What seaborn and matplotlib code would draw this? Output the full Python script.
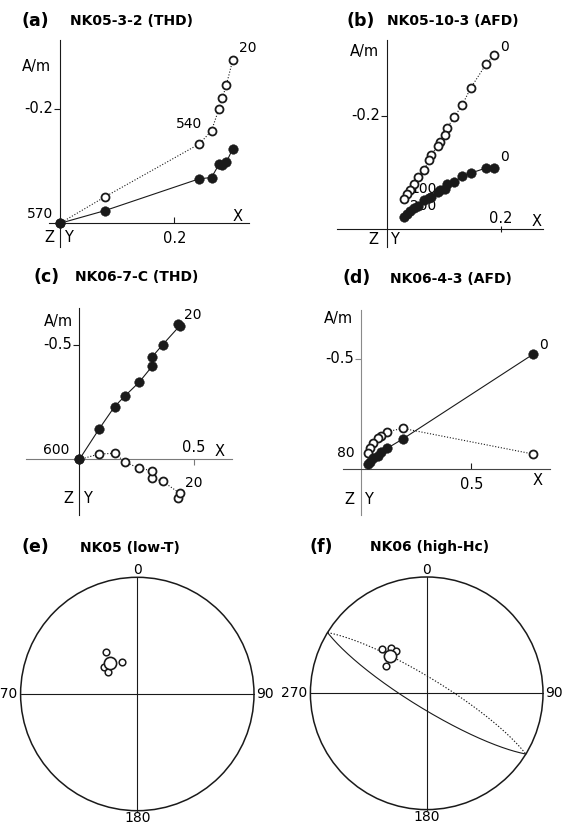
import numpy as np
import matplotlib
matplotlib.use("Agg")
import matplotlib.pyplot as plt
import seaborn as sns
from matplotlib.patches import Circle

sns.set_theme(style="white")
plt.rcParams["font.family"] = ["DejaVu Sans"]
plt.rcParams["text.color"] = "black"
plt.rcParams["xtick.color"] = "black"
plt.rcParams["ytick.color"] = "black"

W, H, DPI = 566, 827, 100

# ---------------------------------------------------------------------------
# Demagnetization data (A/m).  x = X component (shared), hor = horizontal
# projection (Y, filled), ver = vertical projection (Z, open).  Up is negative.
# ---------------------------------------------------------------------------
# (a) NK05-3-2, thermal, 20 ... 570 degC
a_x = [0.302, 0.291, 0.284, 0.278, 0.265, 0.244, 0.078, 0.0]
a_hor = [-0.130, -0.107, -0.102, -0.103, -0.080, -0.078, -0.022, 0.0]
a_ver = [-0.285, -0.242, -0.219, -0.200, -0.162, -0.139, -0.046, 0.0]

# (b) NK05-10-3, alternating field, 0 ... 200 mT
b_x = [0.188, 0.174, 0.147, 0.132, 0.118, 0.105, 0.102, 0.093, 0.089,
       0.077, 0.073, 0.065, 0.054, 0.047, 0.040, 0.035, 0.029]
b_hor = [-0.108, -0.108, -0.099, -0.094, -0.083, -0.080, -0.071, -0.069, -0.066,
         -0.057, -0.055, -0.052, -0.041, -0.038, -0.032, -0.027, -0.022]
b_ver = [-0.307, -0.291, -0.249, -0.219, -0.198, -0.178, -0.166, -0.154, -0.147,
         -0.131, -0.122, -0.104, -0.092, -0.080, -0.069, -0.062, -0.053]

# (c) NK06-7-C, thermal, 20 ... 600 degC
c_x = [0.432, 0.438, 0.363, 0.318, 0.318, 0.261, 0.201, 0.154, 0.087, 0.0]
c_hor = [-0.592, -0.583, -0.500, -0.448, -0.407, -0.337, -0.279, -0.231, -0.134, 0.0]
c_ver = [0.167, 0.147, 0.095, 0.081, 0.049, 0.038, 0.012, -0.027, -0.024, 0.0]

# (d) NK06-4-3, alternating field, 0 ... 80 mT
d_x = [0.779, 0.190, 0.120, 0.090, 0.077, 0.057, 0.042, 0.034]
d_hor = [-0.520, -0.137, -0.095, -0.077, -0.061, -0.050, -0.034, -0.023]
d_ver = [-0.069, -0.185, -0.170, -0.152, -0.140, -0.117, -0.098, -0.075]

# Site directions (declination, inclination in degrees; negative = upper hemisphere)
e_dec = [322.8, 334.2, 309.3, 306.8]
e_inc = [-53.0, -64.9, -59.7, -64.7]
e_mean_dec, e_mean_inc = 318.4, -61.2

f_dec = [315.0, 322.1, 324.0, 304.3]
f_inc = [-45.3, -48.7, -52.9, -55.1]
f_mean_dec, f_mean_inc = 315.1, -53.1

# Pole of the remagnetization great circle (NK06)
gc_pole_dec, gc_pole_inc = 31.5, 10.5

fig = plt.figure(figsize=(W / DPI, H / DPI), dpi=DPI)
fig.patch.set_facecolor("white")

FS = 10.5


def ftext(x, y, s, **kw):
    """Text placed by figure pixel position (origin top-left)."""
    kw.setdefault("fontsize", FS)
    kw.setdefault("ha", "center")
    kw.setdefault("va", "center")
    kw.setdefault("color", "black")
    return fig.text(x / W, 1 - y / H, s, **kw)


def title(x_tag, x_name, y, tag, name):
    ftext(x_tag, y, tag, ha="left", fontsize=12.5, fontweight="bold")
    ftext(x_name, y + 0.5, name, ha="left", fontsize=10, fontweight="bold")


def zijder_axes(origin, ppu, xlim, ylim, hcol="k", vcol="k"):
    ox, oy = origin
    left, right = ox + xlim[0] * ppu, ox + xlim[1] * ppu
    top, bottom = oy + ylim[0] * ppu, oy + ylim[1] * ppu
    ax = fig.add_axes([left / W, 1 - bottom / H, (right - left) / W, (bottom - top) / H])
    ax.set_xlim(*xlim)
    ax.set_ylim(ylim[1], ylim[0])
    ax.patch.set_alpha(0)
    for side in ("top", "right"):
        ax.spines[side].set_visible(False)
    ax.spines["left"].set_position(("data", 0))
    ax.spines["bottom"].set_position(("data", 0))
    ax.spines["left"].set_color(vcol)
    ax.spines["bottom"].set_color(hcol)
    ax.spines["left"].set_linewidth(0.8)
    ax.spines["bottom"].set_linewidth(0.8)
    ax.grid(False)
    return ax


def zijder_data(ax, xs, hor, ver):
    sns.lineplot(x=xs, y=ver, ax=ax, sort=False, estimator=None, color="k",
                 lw=0.8, linestyle=(0, (1, 1.6)), zorder=2)
    sns.lineplot(x=xs, y=hor, ax=ax, sort=False, estimator=None, color="k",
                 lw=0.8, zorder=2)
    sns.scatterplot(x=xs, y=ver, ax=ax, s=33, color="white", edgecolor="k",
                    linewidth=1.3, zorder=3)
    sns.scatterplot(x=xs, y=hor, ax=ax, s=48, color="k", edgecolor="k",
                    linewidth=0.3, zorder=4)
    ax.set_xlabel("")
    ax.set_ylabel("")


def ticks(ax, xt, xlab, yt, ylab, xdir, xoff, ydir="out", ycol="k", xcol="k"):
    ax.set_xticks([xt])
    ax.set_xticklabels([""])
    ax.set_yticks([yt])
    ax.set_yticklabels([""])
    ax.tick_params(axis="x", direction=xdir, length=4, width=0.8, color=xcol,
                   bottom=True, top=False)
    ax.tick_params(axis="y", direction=ydir, length=4, width=0.8, color=ycol,
                   left=True, right=False)
    ax.annotate(xlab, (xt, 0), xytext=(0, xoff), textcoords="offset points",
                ha="center", va="center", fontsize=FS, color="black")
    ax.annotate(ylab, (0, yt), xytext=(-5, 0), textcoords="offset points",
                ha="right", va="center", fontsize=FS, color="black")


def step_label(ax, s, x, y, dx, dy, z=5):
    ax.annotate(s, (x, y), xytext=(dx, dy), textcoords="offset points",
                ha="center", va="center", fontsize=10, zorder=z, color="black")


# ---------------- (a) ----------------
title(21.7, 70, 20.7, "(a)", "NK05-3-2 (THD)")
ax = zijder_axes((60, 223.3), 571.7, (-0.02, 0.33), (-0.3206, 0.0415))
zijder_data(ax, a_x, a_hor, a_ver)
ticks(ax, 0.2, "0.2", -0.2, "-0.2", "in", -10.8)
step_label(ax, "20", a_x[0], a_ver[0], 11.2, 8.7)
step_label(ax, "540", a_x[4], a_ver[4], -16.0, 4.6)
step_label(ax, "570", a_x[-1], a_ver[-1], -14.4, 6.5)
ftext(36.7, 66.7, "A/m")
ftext(237.3, 216.7, "X")
ftext(49, 237.3, "Z")
ftext(68.3, 237.3, "Y")

# ---------------- (b) ----------------
title(346.3, 387, 20.7, "(b)", "NK05-10-3 (AFD)")
ax = zijder_axes((387.3, 229.3), 567.5, (-0.0886, 0.274), (-0.3336, 0.0312))
zijder_data(ax, b_x, b_hor, b_ver)
ticks(ax, 0.2, "0.2", -0.2, "-0.2", "inout", 7.9)
step_label(ax, "0", b_x[0], b_ver[0], 7.7, 6.0)
step_label(ax, "0", b_x[0], b_hor[0], 7.7, 8.1)
step_label(ax, "100", b_x[13], b_ver[13], 6.7, -4.0, z=1)
step_label(ax, "200", b_x[16], b_ver[16], 14.0, -4.9, z=1)
ftext(364.7, 51.7, "A/m")
ftext(536.3, 221.7, "X")
ftext(373, 240, "Z")
ftext(394, 240, "Y")

# ---------------- (c) ----------------
title(33.3, 75, 276.7, "(c)", "NK06-7-C (THD)")
ax = zijder_axes((79.3, 459.5), 229.3, (-0.232, 0.666), (-0.661, 0.242),
                 hcol="#7a7a7a", vcol="k")
zijder_data(ax, c_x, c_hor, c_ver)
ticks(ax, 0.5, "0.5", -0.5, "-0.5", "out", 8.8, xcol="#7a7a7a")
step_label(ax, "20", c_x[0], c_hor[0], 10.7, 6.3)
step_label(ax, "600", c_x[-1], c_hor[-1], -16.3, 6.8)
step_label(ax, "20", c_x[0], c_ver[0], 11.2, 10.4)
ftext(58.3, 321.7, "A/m")
ftext(220, 451.7, "X")
ftext(68.3, 498.3, "Z")
ftext(87.7, 498.3, "Y")

# ---------------- (d) ----------------
title(343, 389.7, 278.3, "(d)", "NK06-4-3 (AFD)")
ax = zijder_axes((360.7, 469.3), 221.3, (-0.08, 0.855), (-0.72, 0.2065),
                 hcol="#444444", vcol="#8a8a8a")
zijder_data(ax, d_x, d_hor, d_ver)
ticks(ax, 0.5, "0.5", -0.5, "-0.5", "in", -11.3, ycol="#8a8a8a")
step_label(ax, "0", d_x[0], d_hor[0], 7.2, 6.7)
step_label(ax, "80", d_x[-1], d_ver[-1], -15.8, -0.4)
ftext(338, 318.3, "A/m")
ftext(538, 480, "X")
ftext(349, 500, "Z")
ftext(368, 500, "Y")


# ---------------- stereonets ----------------
def eq_area(dec, inc):
    dec = np.radians(np.asarray(dec, float))
    r = np.sqrt(2) * np.sin(np.radians(90 - np.abs(np.asarray(inc, float))) / 2)
    return r * np.sin(dec), r * np.cos(dec)


def great_circle(pole_dec, pole_inc, n=241):
    T, P = np.radians(pole_dec), np.radians(pole_inc)
    s = np.array([-np.sin(T), np.cos(T), 0.0])
    d = np.array([-np.sin(P) * np.cos(T), -np.sin(P) * np.sin(T), np.cos(P)])
    th = np.linspace(0, np.pi, n)
    v = np.outer(np.cos(th), s) + np.outer(np.sin(th), d)
    dec = np.degrees(np.arctan2(v[:, 1], v[:, 0]))
    inc = np.degrees(np.arcsin(np.clip(v[:, 2], -1, 1)))
    return dec, inc


def stereonet(center, R):
    cx, cy = center
    k = 1.12
    ax = fig.add_axes([(cx - k * R) / W, 1 - (cy + k * R) / H, 2 * k * R / W, 2 * k * R / H])
    ax.set_xlim(-k, k)
    ax.set_ylim(-k, k)
    ax.axis("off")
    ax.add_patch(Circle((0, 0), 1, fill=False, ec="k", lw=1.1, zorder=2))
    ax.plot([-1, 1], [0, 0], color="k", lw=0.8, zorder=1)
    ax.plot([0, 0], [-1, 1], color="k", lw=0.8, zorder=1)
    ftext(cx, cy - R - 7.5, "0", fontsize=10)
    ftext(cx, cy + R + 7.8, "180", fontsize=10)
    ftext(cx - R - 3.5, cy, "270", ha="right", fontsize=10)
    ftext(cx + R + 2.5, cy, "90", ha="left", fontsize=10)
    return ax


def site_points(ax, decs, incs, mdec, minc):
    x, y = eq_area(decs, incs)
    sns.scatterplot(x=x, y=y, ax=ax, s=23, color="white", edgecolor="k",
                    linewidth=1.1, zorder=4)
    mx, my = eq_area([mdec], [minc])
    sns.scatterplot(x=mx, y=my, ax=ax, s=78, color="white", edgecolor="k",
                    linewidth=1.2, zorder=5)


title(21.7, 80, 547, "(e)", "NK05 (low-T)")
ax = stereonet((137.3, 694), 116.7)
site_points(ax, e_dec, e_inc, e_mean_dec, e_mean_inc)

title(309.7, 370.3, 547, "(f)", "NK06 (high-Hc)")
ax = stereonet((426.7, 693.3), 116.3)
gdec, ginc = great_circle(gc_pole_dec, gc_pole_inc)
lx, ly = eq_area(gdec, ginc)
sns.lineplot(x=lx, y=ly, ax=ax, sort=False, estimator=None, color="k", lw=0.8, zorder=3)
ux, uy = eq_area(gdec + 180, -ginc)
sns.lineplot(x=ux, y=uy, ax=ax, sort=False, estimator=None, color="k", lw=0.8,
             linestyle=(0, (1.2, 1.6)), zorder=3)
site_points(ax, f_dec, f_inc, f_mean_dec, f_mean_inc)

fig.savefig("out.png", dpi=DPI, facecolor="white")
